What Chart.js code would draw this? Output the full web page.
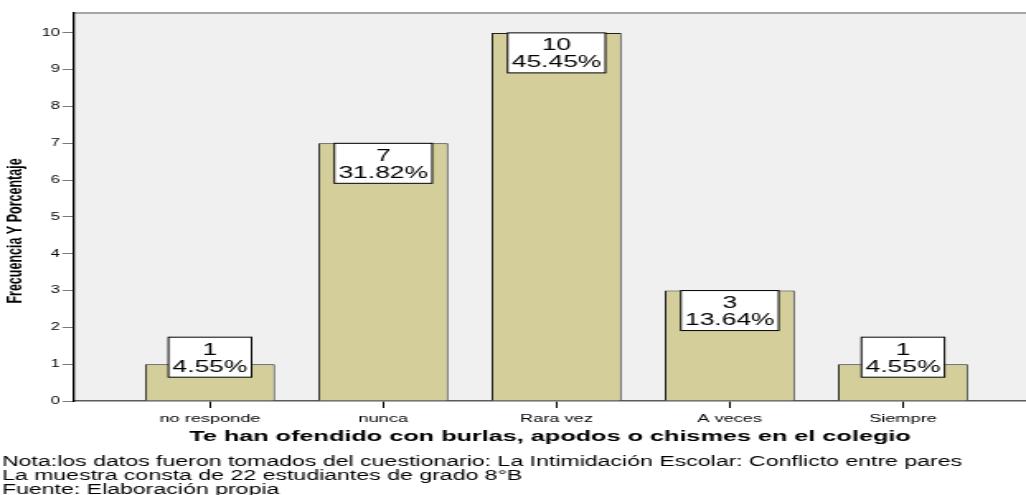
<!DOCTYPE html>
<html>
<head>
<meta charset="utf-8">
<script src="https://cdn.jsdelivr.net/npm/chart.js@4"></script>
<style>
  html, body { margin: 0; padding: 0; background: #fff; }
</style>
</head>
<body>
<!-- the original picture is stretched sideways, so the canvas is drawn narrow and scaled up by CSS -->
<canvas id="myChart" width="622" height="495" style="width:1026px;height:495px"></canvas>
<script>
var categories = ["no responde", "nunca", "Rara vez", "A veces", "Siempre"];
var counts = [1, 7, 10, 3, 1];
var percents = [4.55, 31.82, 45.45, 13.64, 4.55];
var yTicks = [0, 1, 2, 3, 4, 5, 6, 7, 8, 9, 10];
var xTitle = "Te han ofendido con burlas, apodos o chismes en el colegio";
var yTitle = "Frecuencia Y Porcentaje";
var notes = [
    "Nota:los datos fueron tomados del cuestionario: La Intimidación Escolar: Conflicto entre pares",
    "La muestra consta de 22 estudiantes de grado 8°B",
    "Fuente: Elaboración propia"
];

var FONT = "'Liberation Sans', Arial, sans-serif";

// grey plot background, top frame line and the rotated y title
var frame = {
    id: "frame",
    beforeDraw: function (chart) {
        var a = chart.chartArea, ctx = chart.ctx;
        ctx.save();
        ctx.fillStyle = "#f0f0f0";
        ctx.fillRect(a.left, a.top, a.right - a.left, a.bottom - a.top);
        ctx.strokeStyle = "#8c8c8c";
        ctx.lineWidth = 1.5;
        ctx.beginPath();
        ctx.moveTo(a.left, a.top);
        ctx.lineTo(a.right, a.top);
        ctx.stroke();
        ctx.restore();
    },
    afterDraw: function (chart) {
        var a = chart.chartArea, ctx = chart.ctx;
        ctx.save();
        ctx.translate(9.1, (a.top + a.bottom) / 2 + 24);
        ctx.rotate(-Math.PI / 2);
        ctx.font = "bold 12.5px " + FONT;
        ctx.fillStyle = "#000";
        ctx.textAlign = "center";
        ctx.textBaseline = "middle";
        ctx.fillText(yTitle, 0, 0);
        ctx.restore();
    }
};

// white boxes with count and percent on each bar
var boxLabels = {
    id: "boxLabels",
    afterDatasetsDraw: function (chart) {
        var ctx = chart.ctx;
        var bars = chart.getDatasetMeta(0).data;
        ctx.save();
        ctx.font = "16px " + FONT;
        ctx.textAlign = "center";
        ctx.textBaseline = "middle";
        bars.forEach(function (bar, i) {
            var lines = [String(counts[i]), percents[i].toFixed(2) + "%"];
            var w = Math.max(ctx.measureText(lines[0]).width, ctx.measureText(lines[1]).width) + 5;
            var h = 40;
            var top = (bar.base - bar.y < h) ? bar.y - 27 : bar.y;
            ctx.fillStyle = "#fff";
            ctx.fillRect(bar.x - w / 2, top, w, h);
            ctx.strokeStyle = "#000";
            ctx.lineWidth = 1;
            ctx.strokeRect(bar.x - w / 2, top, w, h);
            ctx.fillStyle = "#000";
            ctx.fillText(lines[0], bar.x, top + 13);
            ctx.fillText(lines[1], bar.x, top + 30);
        });
        ctx.restore();
    }
};

new Chart("myChart", {
    type: "bar",
    data: {
        datasets: [{
            data: counts.map(function (v, i) { return { x: i, y: v }; }),
            backgroundColor: "#d3ce9a",
            borderColor: "#1e1e1e",
            borderWidth: 1,
            barPercentage: 0.75,
            categoryPercentage: 1
        }]
    },
    options: {
        responsive: false,
        animation: false,
        layout: { padding: { top: 13, left: 1.2, right: 0, bottom: 0 } },
        plugins: {
            legend: { display: false },
            tooltip: { enabled: false },
            title: {
                display: true,
                position: "bottom",
                align: "start",
                text: notes,
                color: "#000",
                font: { family: FONT, size: 14, weight: "normal", lineHeight: 1 },
                padding: { top: 9, bottom: -2 }
            }
        },
        scales: {
            x: {
                type: "linear",
                min: -0.785,
                max: 4.71,
                offset: false,
                afterBuildTicks: function (s) {
                    s.ticks = categories.map(function (c, i) { return { value: i }; });
                },
                afterFit: function (s) { s.height = 45; },
                ticks: {
                    callback: function (v) { return categories[v]; },
                    color: "#000",
                    font: { family: FONT, size: 11 },
                    padding: 4,
                    maxRotation: 0,
                    autoSkip: false
                },
                grid: { drawOnChartArea: false, offset: false, tickLength: 7, color: "#000", lineWidth: 1 },
                border: { display: true, color: "#5a5a5a", width: 1.5 },
                title: {
                    display: true,
                    text: xTitle,
                    color: "#000",
                    font: { family: FONT, size: 15.3, weight: "bold" },
                    padding: { top: 0, bottom: 0 }
                }
            },
            y: {
                min: 0,
                max: 10.54,
                afterBuildTicks: function (s) {
                    s.ticks = yTicks.map(function (v) { return { value: v }; });
                },
                afterFit: function (s) { s.width = 43.66; },
                ticks: {
                    color: "#000",
                    font: { family: FONT, size: 10 },
                    padding: 1.5
                },
                grid: { drawOnChartArea: false, tickLength: 7, color: "#7a7a7a", lineWidth: 1 },
                border: { color: "#000", width: 1.3 }
            }
        }
    },
    plugins: [frame, boxLabels]
});
</script>
</body>
</html>
